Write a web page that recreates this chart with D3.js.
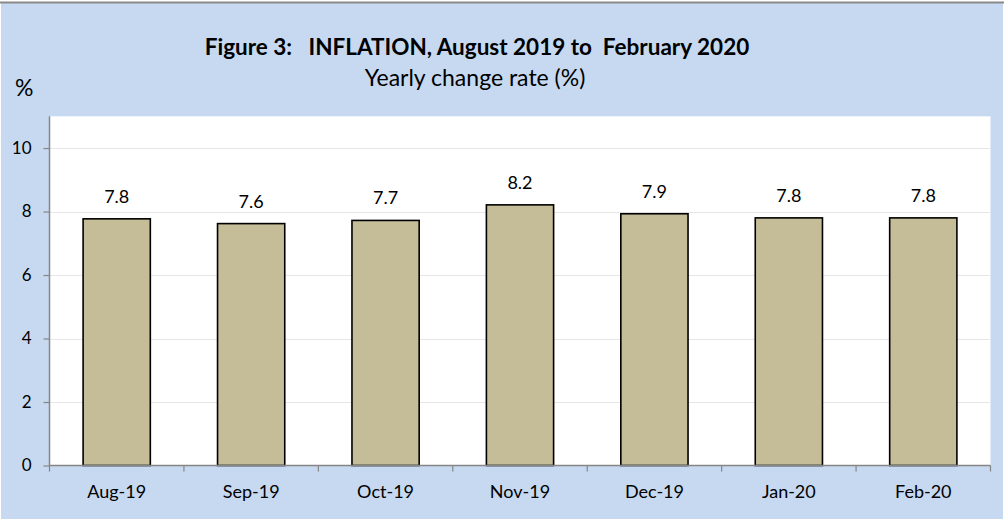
<!DOCTYPE html>
<html><head><meta charset="utf-8">
<script src="https://cdn.jsdelivr.net/npm/d3@7"></script>
<style>
html,body{margin:0;padding:0;background:#fff;}
svg text{font-family:Lato,"Open Sans",sans-serif;fill:#000;}
</style></head>
<body>
<svg id="chart" width="1004" height="519"></svg>
<script>
const categories = ["Aug-19","Sep-19","Oct-19","Nov-19","Dec-19","Jan-20","Feb-20"];
const values = [7.77, 7.62, 7.72, 8.21, 7.93, 7.80, 7.80];
const yTicks = [0, 2, 4, 6, 8, 10];
const titleText = "Figure 3:   INFLATION, August 2019 to  February 2020";
const subtitleText = "Yearly change rate (%)";
const yUnit = "%";

const svg = d3.select("#chart");
const W = 1004, H = 519;
svg.append("rect").attr("x",1).attr("y",2).attr("width",W-2).attr("height",H-2).attr("fill","#c6d9f1");
svg.append("line").attr("x1",0).attr("x2",W).attr("y1",2.5).attr("y2",2.5).attr("stroke","#8a8a8a").attr("stroke-width",2);

const L = 49.5, R = 990.5, T = 116.3, B = 465.5;
svg.append("rect").attr("x",L).attr("y",T).attr("width",R-L).attr("height",B-T).attr("fill","#fff");

const y = d3.scaleLinear().domain([0,11]).range([B,T]);
const x = d3.scaleBand().domain(categories).range([L,R]).paddingInner(0.5).paddingOuter(0.25);
const xCells = d3.scaleBand().domain(categories).range([L,R]).padding(0);

svg.append("g").selectAll("line").data(yTicks.filter(d=>d>0)).join("line")
  .attr("x1",L).attr("x2",R).attr("y1",d=>Math.round(y(d))+0.5).attr("y2",d=>Math.round(y(d))+0.5)
  .attr("stroke","#e6e6e6").attr("stroke-width",1.2);

svg.append("g").selectAll("rect").data(values).join("rect")
  .attr("x",(d,i)=>x(categories[i]))
  .attr("width",x.bandwidth())
  .attr("y",d=>y(d))
  .attr("height",d=>B-y(d))
  .attr("fill","#c4bd97").attr("stroke","#000").attr("stroke-width",1.6);

svg.append("g").selectAll("text").data(values).join("text")
  .attr("x",(d,i)=>x(categories[i])+x.bandwidth()/2)
  .attr("y",d=>y(d)-16)
  .attr("text-anchor","middle").style("font-size","18px")
  .text(d=>d.toFixed(1));

const yAxis = svg.append("g").attr("transform",`translate(${L},0)`)
  .call(d3.axisLeft(y).tickValues(yTicks).tickSize(6).tickPadding(12).tickFormat(d3.format("d")));
yAxis.attr("font-size",null).attr("font-family",null);
yAxis.select(".domain").attr("stroke","#868686").attr("stroke-width",1.5).attr("d",`M-0,${B}V${T}`);
yAxis.selectAll(".tick line").attr("stroke","#868686").attr("stroke-width",1.2);
yAxis.selectAll(".tick text").style("font-size","17px");

const xAxis = svg.append("g").attr("transform",`translate(0,${B})`)
  .call(d3.axisBottom(x).tickSize(0).tickPadding(20));
xAxis.attr("font-size",null).attr("font-family",null);
xAxis.select(".domain").attr("stroke","#868686").attr("stroke-width",1.5).attr("d",`M${L},0H${R}`);
xAxis.selectAll(".tick text").style("font-size","18px");
const boundaries = categories.map(c=>xCells(c)).concat([R]);
xAxis.append("g").selectAll("line").data(boundaries).join("line")
  .attr("x1",d=>d).attr("x2",d=>d).attr("y1",0).attr("y2",6)
  .attr("stroke","#868686").attr("stroke-width",1.2);

svg.append("text").attr("x",477).attr("y",55).attr("text-anchor","middle")
  .style("font-size","22.5px").style("font-weight","bold").style("white-space","pre").text(titleText);
svg.append("text").attr("x",475).attr("y",86).attr("text-anchor","middle")
  .style("font-size","23px").text(subtitleText);
svg.append("text").attr("x",15).attr("y",96).style("font-size","23px").text(yUnit);
</script>
</body></html>
